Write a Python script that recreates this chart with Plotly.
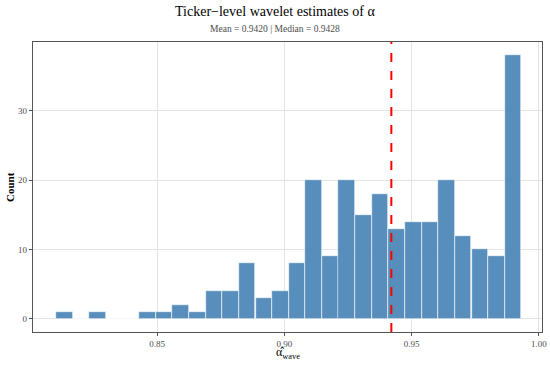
import plotly.graph_objects as go

# Histogram bins (centers) and counts
bin_centers = [0.8135, 0.8201, 0.8266, 0.8331, 0.8396, 0.8462, 0.8527, 0.8592,
               0.8658, 0.8723, 0.8788, 0.8853, 0.8919, 0.8984, 0.9049, 0.9115,
               0.9180, 0.9245, 0.9311, 0.9376, 0.9441, 0.9506, 0.9572, 0.9637,
               0.9702, 0.9768, 0.9833, 0.9898]
counts = [1, 0, 1, 0, 0, 1, 1, 2, 1, 4, 4, 8, 3, 4, 8, 20, 9, 20, 15, 18,
          13, 14, 14, 20, 12, 10, 9, 38]
bin_width = 0.00653
mean_val = 0.9420
median_val = 0.9428
x_ticks = [0.85, 0.90, 0.95, 1.00]
x_tick_text = ["0.85", "0.90", "0.95", "1.00"]
y_ticks = [0, 10, 20, 30]

font_family = "Liberation Serif"

fig = go.Figure()
fig.add_trace(go.Bar(
    x=bin_centers, y=counts, width=[bin_width] * len(bin_centers),
    marker=dict(color="rgba(70,130,180,0.9)", line=dict(color="white", width=0.6)),
    hoverinfo="x+y", showlegend=False,
))

fig.add_shape(type="line", x0=mean_val, x1=mean_val, xref="x", y0=0, y1=1, yref="paper",
              line=dict(color="#FF0000", width=2, dash="dash"))

title_x = 0.4754  # centred on the whole page, not the panel
annotations = [
    dict(text="Ticker\u2212level wavelet estimates of \u03b1",
         xref="paper", yref="paper", x=title_x, y=1.0, yshift=31, xanchor="center", yanchor="middle",
         showarrow=False, font=dict(size=14, color="black", family=font_family)),
    dict(text="Mean = %.4f | Median = %.4f" % (mean_val, median_val),
         xref="paper", yref="paper", x=title_x, y=1.0, yshift=13,
         xanchor="center", yanchor="middle", showarrow=False,
         font=dict(size=9.5, color="#4d4d4d", family=font_family)),
    dict(text="\u03b1\u0302<sub>wave</sub>", xref="paper", yref="paper", x=0.5, y=0, yshift=-21,
         xanchor="center", yanchor="middle", showarrow=False,
         font=dict(size=12, color="black", family=font_family)),
    dict(text="<b>Count</b>", xref="paper", yref="paper", x=0, xshift=-23, y=0.5, textangle=-90,
         xanchor="center", yanchor="middle", showarrow=False,
         font=dict(size=11, color="black", family=font_family)),
]

fig.update_layout(
    width=550, height=366,
    margin=dict(l=33, r=8, t=42, b=34),
    paper_bgcolor="white", plot_bgcolor="white",
    font=dict(family=font_family, size=10, color="#333333"),
    annotations=annotations,
    bargap=0,
)

fig.update_xaxes(
    range=[0.8012, 1.0012], tickvals=x_ticks, ticktext=x_tick_text, automargin=False,
    showgrid=True, gridcolor="#E3E3E3", gridwidth=1, zeroline=False,
    showline=True, linecolor="#555555", linewidth=1.2, mirror=True,
    ticks="outside", ticklen=3, tickcolor="#555555",
    tickfont=dict(size=9, color="#4d4d4d", family=font_family),
)
fig.update_yaxes(
    range=[-1.9, 39.9], tickvals=y_ticks, automargin=False,
    showgrid=True, gridcolor="#E3E3E3", gridwidth=1, zeroline=False,
    showline=True, linecolor="#555555", linewidth=1.2, mirror=True,
    ticks="outside", ticklen=3, tickcolor="#555555",
    tickfont=dict(size=9, color="#4d4d4d", family=font_family),
)

fig.write_html("out.html", config={"displayModeBar": False},
               post_script="document.body.style.margin='0';document.body.style.overflow='hidden';")
